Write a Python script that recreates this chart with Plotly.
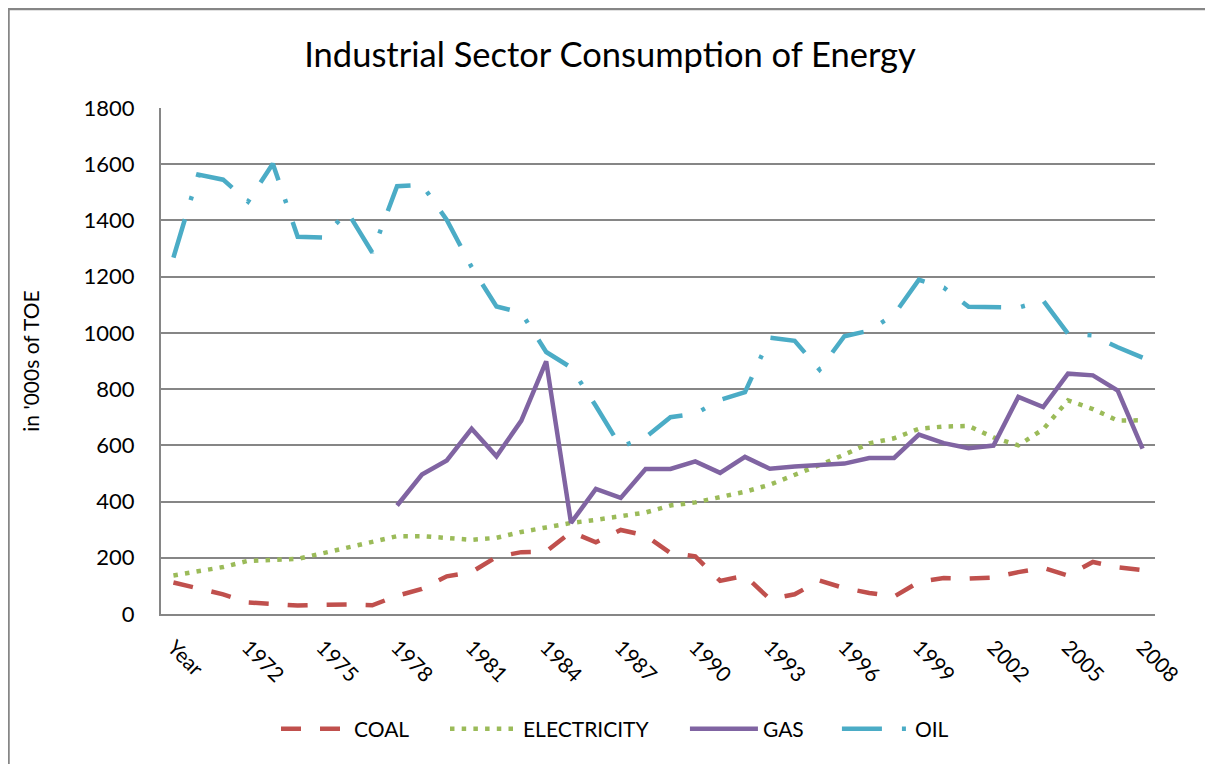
import plotly.graph_objects as go

categories = ["Year"] + [str(y) for y in range(1970, 2009)]
tick_labels = ["Year", "1972", "1975", "1978", "1981", "1984", "1987", "1990",
               "1993", "1996", "1999", "2002", "2005", "2008"]

coal = [112, 89, 70, 41, 37, 30, 33, 34, 31, 65, 89, 134, 149, 203, 220, 222,
        292, 255, 299, 279, 217, 205, 118, 136, 53, 70, 119, 92, 75, 62, 114,
        128, 126, 130, 149, 164, 137, 185, 166, 156]
electricity = [137, 152, 167, 189, 193, 196, 216, 237, 254, 277, 277, 269, 264,
               271, 292, 308, 324, 335, 346, 361, 386, 397, 416, 435, 460, 494,
               530, 567, 607, 625, 659, 667, 669, 628, 600, 657, 760, 729, 688, 689]
gas = [None] * 9 + [386, 496, 546, 659, 561, 688, 899, 324, 445, 413, 516, 516,
                    543, 502, 559, 517, 525, 528, 535, 555, 555, 638, 608, 590,
                    599, 772, 736, 855, 849, 795, 588]
oil = [1268, 1563, 1545, 1467, 1602, 1342, 1339, 1430, 1286, 1522, 1527, 1402,
       1234, 1094, 1072, 932, 877, 740, 595, 629, 700, 712, 762, 789, 983, 972,
       869, 988, 1008, 1065, 1189, 1161, 1093, 1091, 1090, 1115, 997, 991, 949, 912]

series = [
    ("COAL", coal, "#C0504D", "20px,19px"),
    ("ELECTRICITY", electricity, "#9BBB59", "4.5px,7.2px"),
    ("GAS", gas, "#8064A2", "solid"),
    ("OIL", oil, "#4BACC6", "40px,20px,4px,20px"),
]
legend_ids = ["legend", "legend2", "legend3", "legend4"]
legend_x = [0.1157, 0.2857, 0.5271, 0.680]

FONT = "Lato, 'Open Sans', sans-serif"
GRID = "#868686"

fig = go.Figure()
for (name, vals, color, dash), lid in zip(series, legend_ids):
    fig.add_trace(go.Scatter(
        x=categories, y=vals, name=name, mode="lines",
        line=dict(color=color, width=4.5, dash=dash),
        connectgaps=False, legend=lid,
    ))

legend_common = dict(orientation="h", xanchor="left", y=-0.2273,
                     yanchor="middle", font=dict(family=FONT, size=21),
                     itemwidth=68, bgcolor="rgba(0,0,0,0)")

fig.update_layout(
    width=1213, height=764,
    margin=dict(l=153, r=66, t=100, b=158),
    paper_bgcolor="white", plot_bgcolor="white",
    font=dict(family=FONT, size=21, color="black"),
    title=dict(text="Industrial Sector Consumption of Energy",
               x=0.4963, xanchor="center", y=0.9385, yanchor="middle",
               font=dict(family=FONT, size=34.5, color="black")),
    showlegend=True,
    legend=dict(x=legend_x[0], **legend_common),
    legend2=dict(x=legend_x[1], **legend_common),
    legend3=dict(x=legend_x[2], **legend_common),
    legend4=dict(x=legend_x[3], **legend_common),
    xaxis=dict(type="category", categoryorder="array", categoryarray=categories,
               range=[-0.5, 39.5], tickmode="array", tickvals=tick_labels,
               ticktext=tick_labels, tickangle=45, showgrid=False,
               showline=True, linecolor=GRID, linewidth=2, ticks="",
               ticklabelstandoff=11, tickfont=dict(family=FONT, size=21)),
    yaxis=dict(range=[0, 1800], dtick=200, tick0=0, showgrid=True,
               gridcolor=GRID, gridwidth=1.6, zeroline=False,
               showline=True, linecolor=GRID, linewidth=2, ticks="",
               ticklabelstandoff=20, tickfont=dict(family=FONT, size=22),
               title=dict(text="in '000s of TOE", standoff=38,
                          font=dict(family=FONT, size=21))),
)

# outer chart-area border
fig.add_shape(type="rect", xref="paper", yref="paper",
              x0=(0.5 - 153) / 994, x1=(1240 - 153) / 994,
              y0=(606 - 800) / 506, y1=(606 - 1) / 506,
              line=dict(color=GRID, width=2.5), fillcolor="rgba(0,0,0,0)",
              layer="below")

fig.write_html("out.html")
